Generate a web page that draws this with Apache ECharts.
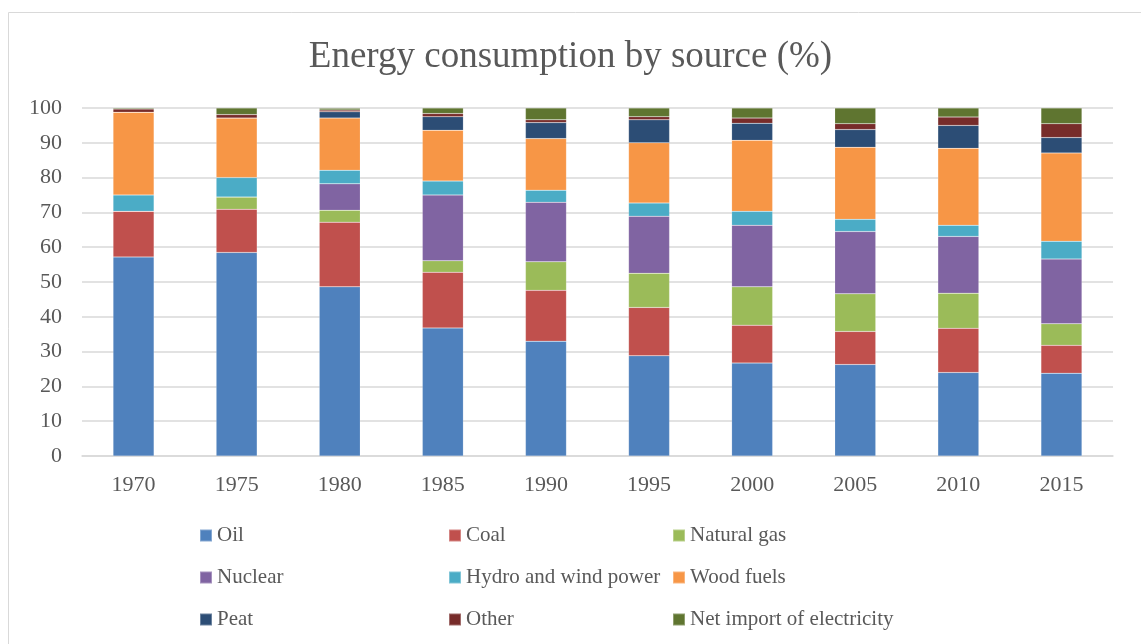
<!DOCTYPE html>
<html>
<head>
<meta charset="utf-8">
<script src="https://cdn.jsdelivr.net/npm/echarts@6/dist/echarts.min.js"></script>
<style>
html,body{margin:0;padding:0;background:#fff;}
#chart{width:1141px;height:644px;}
</style>
</head>
<body>
<div id="chart"></div>
<script>
const categories = ['1970','1975','1980','1985','1990','1995','2000','2005','2010','2015'];
const oil      = [57.2, 58.5, 48.6, 36.8, 33.0, 28.8, 26.7, 26.3, 24.0, 23.8];
const coal     = [13.1, 12.4, 18.6, 16.0, 14.6, 13.9, 10.9,  9.5, 12.7,  8.0];
const naturalGas = [0,   3.5,  3.4,  3.3,  8.2,  9.8, 11.0, 10.8, 10.1,  6.2];
const nuclear  = [0,     0,    7.6, 18.9, 17.1, 16.4, 17.7, 17.9, 16.3, 18.6];
const hydroWind = [4.7,  5.6,  3.9,  4.0,  3.5,  3.8,  4.0,  3.5,  3.2,  5.1];
const woodFuels = [23.8, 17.1, 15.0, 14.6, 14.8, 17.3, 20.4, 20.7, 22.1, 25.4];
const peat     = [0,     0,    1.8,  3.9,  4.6,  6.6,  4.9,  5.1,  6.6,  4.4];
const other    = [0.9,   1.0,  0.5,  0.9,  0.8,  0.9,  1.5,  1.7,  2.4,  4.0];
const netImport = [0.3,  1.9,  0.5,  1.6,  3.4,  2.5,  2.9,  4.5,  2.6,  4.5];
const yTicks = [0, 10, 20, 30, 40, 50, 60, 70, 80, 90, 100];

const seriesNames = ['Oil','Coal','Natural gas','Nuclear','Hydro and wind power','Wood fuels','Peat','Other','Net import of electricity'];
const seriesData = [oil, coal, naturalGas, nuclear, hydroWind, woodFuels, peat, other, netImport];
const colors = ['#4F81BD','#C0504D','#9BBB59','#8064A2','#4BACC6','#F79646','#2C4D75','#772C2A','#5F7530'];

const FONT = '"Liberation Serif", "Times New Roman", serif';
const TXT = '#595959';

const chart = echarts.init(document.getElementById('chart'), null, {renderer:'canvas'});

// legend layout: 3 columns x 3 rows
const colX = [199, 448, 672];
const rowY = [525, 567, 609];
const legends = seriesNames.map((name, i) => ({
  data: [name],
  left: colX[i % 3],
  top: rowY[Math.floor(i / 3)],
  orient: 'horizontal',
  padding: 0,
  itemWidth: 12,
  itemHeight: 12,
  itemGap: 0,
  icon: 'rect',
  selectedMode: false,
  textStyle: {fontFamily: FONT, fontSize: 21, color: TXT, padding: [0,0,0,0]}
}));

chart.setOption({
  animation: false,
  color: colors,
  title: {
    text: 'Energy consumption by source (%)',
    left: 'center',
    top: 34,
    textStyle: {fontFamily: FONT, fontSize: 37, fontWeight: 'normal', color: TXT}
  },
  graphic: [{
    type: 'rect',
    shape: {x: 8.5, y: 12.5, width: 1200, height: 700},
    style: {fill: 'none', stroke: '#d9d9d9', lineWidth: 1},
    silent: true
  }],
  legend: legends,
  grid: {left: 82, right: 28, top: 108, bottom: 188, containLabel: false},
  xAxis: {
    type: 'category',
    data: categories,
    axisLine: {show: true, lineStyle: {color: '#d9d9d9', width: 1.5}},
    axisTick: {show: false},
    axisLabel: {fontFamily: FONT, fontSize: 22, color: TXT, margin: 18}
  },
  yAxis: {
    type: 'value',
    min: yTicks[0],
    max: yTicks[yTicks.length - 1],
    interval: yTicks[1] - yTicks[0],
    axisLine: {show: false},
    axisTick: {show: false},
    splitLine: {lineStyle: {color: '#d9d9d9', width: 1.5}},
    axisLabel: {fontFamily: FONT, fontSize: 22, color: TXT, margin: 20}
  },
  series: seriesNames.map((name, i) => ({
    name: name,
    type: 'bar',
    stack: 'total',
    barWidth: 41,
    data: seriesData[i],
    itemStyle: {color: colors[i], borderColor: 'rgba(255,255,255,0.3)', borderWidth: 0.5}
  }))
});
</script>
</body>
</html>
